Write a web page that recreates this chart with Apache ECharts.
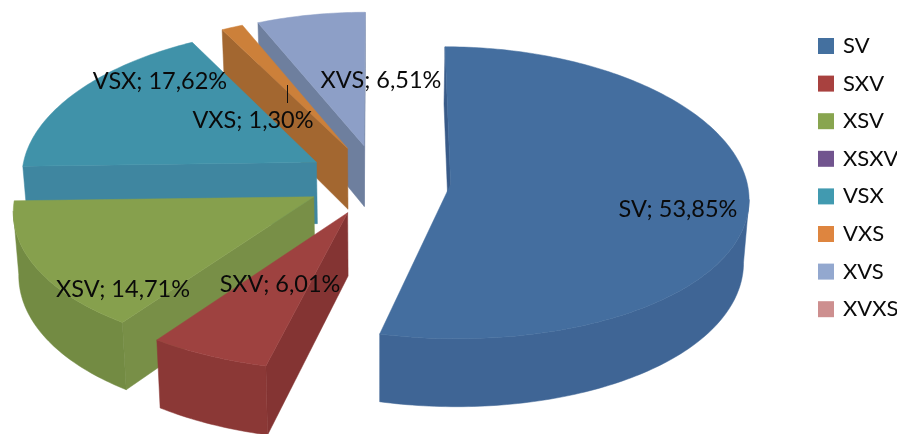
<!DOCTYPE html>
<html>
<head>
<meta charset="utf-8">
<style>
  html, body { margin: 0; padding: 0; background: #fff; overflow: hidden; }
  #chart { width: 897px; height: 434px; }
</style>
<script src="https://cdn.jsdelivr.net/npm/echarts@6/dist/echarts.min.js"></script>
</head>
<body>
<div id="chart"></div>
<script>
const categories = ['SV', 'SXV', 'XSV', 'XSXV', 'VSX', 'VXS', 'XVS', 'XVXS']
const shares = [53.85, 6.01, 14.71, 0, 17.62, 1.30, 6.51, 0]
const legendColors = ['#44709f', '#a8413f', '#88a54f', '#71548e', '#419ab0', '#de853f', '#93a8cf', '#cd8f8f']
const topColors = ['#446e9f', '#9e4240', '#86a04d', '#71548e', '#4092a9', '#cc803a', '#8d9fc7', '#cd8f8f']
const rimColors = ['#3f6595', '#8b3836', '#738b43', '#71548e', '#3f86a0', '#a36730', '#6e7f9e', '#cd8f8f']
const cutColors = ['#385a88', '#843433', '#788f47', '#71548e', '#3f86a0', '#a36730', '#6e7f9e', '#cd8f8f']

// where the data labels sit, by category
const labelCenters = {
  SV: [678, 209], SXV: [280, 284], XSV: [123, 289],
  VSX: [160, 81], VXS: [253, 120], XVS: [381, 80]
}

// projection of the tilted pie
const pie = { x: 378.5, y: 180, rx: 296, ry: 145, depth: 62, explode: 0.245, perspX: 0.085, perspY: 0.058, taper: 0.015 }

const rad = d => d * Math.PI / 180
const total = shares.reduce((a, b) => a + b, 0)

// start / end angle of each slice, clockwise from 12 o'clock
let run = 0
const angles = shares.map(v => {
  const a = [run, run + v / total * 360]
  run = a[1]
  return a
})

const project = (u, v, h) => {
  const s = 1 / (1 - pie.perspX * v)
  return [
    pie.x + pie.rx * u * s * (1 - pie.taper * h),
    pie.y + pie.ry * v / (1 - pie.perspY * v) + pie.depth * h * s
  ]
}

const slicePoint = (mid, deg, r, h) => project(
  pie.explode * Math.sin(rad(mid)) + r * Math.sin(rad(deg)),
  -pie.explode * Math.cos(rad(mid)) - r * Math.cos(rad(deg)),
  h
)

const poly = (points, color) => ({
  type: 'polygon',
  shape: { points },
  style: { fill: color, stroke: color, lineWidth: 0.5 }
})

const drawSlice = i => {
  const [a0, a1] = angles[i]
  const mid = (a0 + a1) / 2
  const steps = Math.max(2, Math.ceil(a1 - a0))
  const rim = []
  for (let k = 0; k <= steps; k++) rim.push(a0 + (a1 - a0) * k / steps)

  const children = []
  const tipTop = slicePoint(mid, 0, 0, 0)
  const tipBottom = slicePoint(mid, 0, 0, 1)

  // cut wall on the start side
  const startTop = slicePoint(mid, a0, 1, 0)
  if (startTop[0] < tipTop[0]) {
    children.push(poly([tipTop, startTop, slicePoint(mid, a0, 1, 1), tipBottom], cutColors[i]))
  }
  // cut wall on the end side
  const endTop = slicePoint(mid, a1, 1, 0)
  if (endTop[0] > tipTop[0]) {
    children.push(poly([endTop, tipTop, tipBottom, slicePoint(mid, a1, 1, 1)], cutColors[i]))
  }

  // outer wall, only the part that faces the viewer
  const upper = []
  const lower = []
  rim.forEach((deg, k) => {
    if (k === 0) return
    const p = slicePoint(mid, rim[k - 1], 1, 0)
    const q = slicePoint(mid, deg, 1, 0)
    if (q[0] < p[0]) {
      if (!upper.length) {
        upper.push(p)
        lower.push(slicePoint(mid, rim[k - 1], 1, 1))
      }
      upper.push(q)
      lower.push(slicePoint(mid, deg, 1, 1))
    }
  })
  if (upper.length) children.push(poly(upper.concat(lower.reverse()), rimColors[i]))

  // top face
  children.push(poly([tipTop].concat(rim.map(deg => slicePoint(mid, deg, 1, 0))), topColors[i]))
  return { type: 'group', children }
}

const sliceSeries = categories.map((name, i) => {
  const mid = (angles[i][0] + angles[i][1]) / 2
  return {
    name,
    type: 'custom',
    coordinateSystem: 'none',
    data: [[shares[i]]],
    // slices further back are painted first
    z: 3 - Math.cos(rad(mid)),
    itemStyle: { color: legendColors[i] },
    silent: true,
    renderItem: () => shares[i] > 0 ? drawSlice(i) : null
  }
})

const labelRows = categories.map((name, i) => [i]).filter(r => shares[r[0]] > 0)

const labelSeries = {
  name: 'labels',
  type: 'custom',
  coordinateSystem: 'none',
  data: labelRows,
  z: 10,
  silent: true,
  renderItem: (params, api) => {
    const i = api.value(0)
    const name = categories[i]
    const [x, y] = labelCenters[name]
    const children = [{
      type: 'text',
      x, y,
      style: {
        text: name + '; ' + shares[i].toFixed(2).replace('.', ',') + '%',
        fill: '#0a0a0a',
        fontFamily: 'Lato',
        fontSize: 23.5,
        align: 'center',
        verticalAlign: 'middle'
      }
    }]
    // VXS has a small leader line
    if (name === 'VXS') {
      children.push({
        type: 'line',
        shape: { x1: x + 34.5, y1: y - 35, x2: x + 34.5, y2: y - 17 },
        style: { stroke: '#111', lineWidth: 1 }
      })
    }
    return { type: 'group', children }
  }
}

const chart = echarts.init(document.getElementById('chart'))
chart.setOption({
  animation: false,
  backgroundColor: '#fff',
  legend: {
    data: categories,
    orient: 'vertical',
    left: 813,
    top: 29,
    icon: 'rect',
    itemWidth: 16,
    itemHeight: 16,
    itemGap: 13.6,
    selectedMode: false,
    textStyle: { fontFamily: 'Lato', fontSize: 22, lineHeight: 24, color: '#0a0a0a', padding: [0, 0, 0, 4] }
  },
  series: sliceSeries.concat(labelSeries)
})
</script>
</body>
</html>
